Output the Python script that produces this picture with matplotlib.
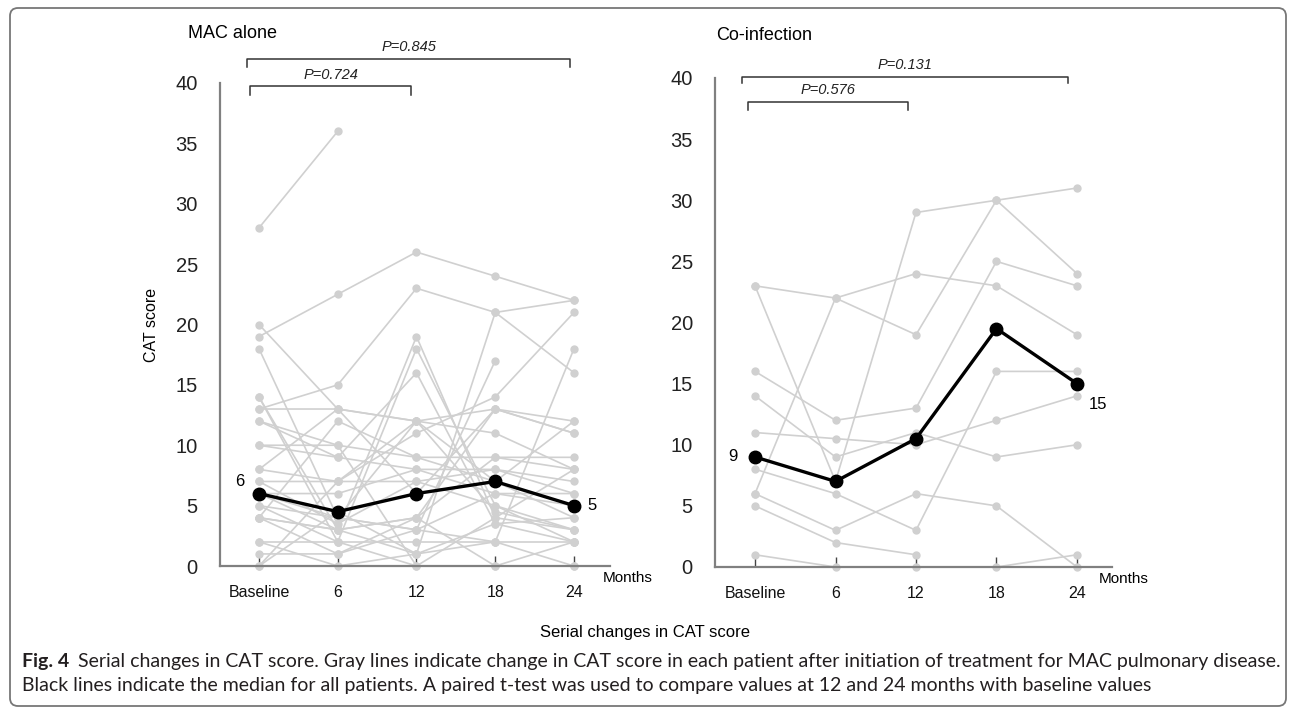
import numpy as np
import matplotlib
matplotlib.use("Agg")
import matplotlib.pyplot as plt
from matplotlib.patches import FancyBboxPatch
from matplotlib.transforms import IdentityTransform

nan = np.nan

months = ["Baseline", "6", "12", "18", "24"]

# CAT score per patient, MAC alone (Baseline, 6, 12, 18, 24 months)
mac_alone = [
    [28, 36, nan, nan, nan],
    [19, 22.5, 26, 24, 22],
    [20, 13, 6, 13, 11],
    [18, 4, 12, 7, 4],
    [13, 15, 23, 21, 22],
    [4, 3, 1, 21, 16],
    [14, 3, 19, 4, 3],
    [14, 2, 18, 5, 2],
    [12, 9, 16, 3.5, 4],
    [10, 10, 9, 9, 9],
    [8, 7, 12, 11, 8],
    [7, 7, 7, 8, 7],
    [6, 6, 8, 8, 6],
    [5, 4, 3, 17, nan],
    [4, 12, 9, 7, 12],
    [4, 3, 4, 13, 11],
    [2, 2, 2, 2, 2],
    [1, 1, 3, 6, 5],
    [0, 4.5, 1, 2, 18],
    [0, 7, 11, 14, 21],
    [8, 13, 12, 4.5, 3],
    [6, 3, 4, 0, 0],
    [5, 2, 0, 4, 8],
    [4, 1, 4, 9, 8],
    [13, 13, 12, 13, 12],
    [10, 9, 8, 6, 6],
    [7, 3.5, 7, 5, 3],
    [2, 0, 1, 3.5, 2],
    [12, 10, 0, 0, 2],
    [6, 4, 3, 2, 0],
]
mac_median = [6, 4.5, 6, 7, 5]

# CAT score per patient, co-infection
coinf = [
    [23, 22, 24, 23, 19],
    [6, 22, 19, 30, 24],
    [23, 7, 29, 30, 31],
    [16, 12, 13, 25, 23],
    [8, 6, 3, 16, 16],
    [14, 9, 11, 9, 10],
    [11, 10.5, 10, 12, 14],
    [6, 3, 6, 5, 0],
    [5, 2, 1, nan, nan],
    [1, 0, 0, 0, 1],
]
coinf_median = [9, 7, 10.5, 19.5, 15]

mac_p = ["P=0.724", "P=0.845"]
coinf_p = ["P=0.576", "P=0.131"]

plt.rcParams['font.family'] = ['Liberation Sans', 'DejaVu Sans']

W, H = 1292, 708
fig = plt.figure(figsize=(W / 100, H / 100), dpi=100)


def px_axes(x0, x1, ytop, ybot):
    return fig.add_axes([x0 / W, 1 - ybot / H, (x1 - x0) / W, (ybot - ytop) / H])


def panel(ax, patients, median, xlim):
    x = np.arange(len(months))
    for p in patients:
        ax.plot(x, p, color='#d0d0d0', lw=1.2, marker='o', ms=5,
                clip_on=False, zorder=2)
    ax.plot(x, median, color='black', lw=2.4, marker='o', ms=9,
            clip_on=False, zorder=3)
    ax.set_xlim(*xlim)
    ax.set_ylim(0, 40)
    ax.set_yticks(range(0, 41, 5))
    ax.set_xticks(x)
    ax.set_xticklabels(months, fontsize=11.5)
    ax.tick_params(axis='y', length=0, pad=16, labelsize=14.5, labelcolor='#222222')
    ax.tick_params(axis='x', direction='in', length=7, width=1, color='#444444',
                   pad=14, labelcolor='#111111')
    for s in ['top', 'right']:
        ax.spines[s].set_visible(False)
    for s in ['left', 'bottom']:
        ax.spines[s].set_color('#808080')
        ax.spines[s].set_linewidth(1.6)


def bracket(ax, x0, x1, y, tip, label, ty):
    ax.plot([x0, x0, x1, x1], [y - tip, y, y, y - tip], color='#333333', lw=1.1,
            clip_on=False)
    ax.text((x0 + x1) / 2, ty, label, ha='center', va='center', fontsize=10.5,
            style='italic', color='#222222', clip_on=False)


# left panel
ax1 = px_axes(220, 610, 83, 566)
panel(ax1, mac_alone, mac_median, (-0.495, 4.457))
bracket(ax1, -0.15, 3.95, 42.0, 0.7, mac_p[1], 42.95)
bracket(ax1, -0.11, 1.93, 39.75, 0.75, mac_p[0], 40.7)
ax1.annotate(str(mac_median[0]), (0, mac_median[0]), xytext=(-14, 9),
             textcoords='offset points', ha='center', va='center', fontsize=12)
ax1.annotate(str(mac_median[-1]), (4, mac_median[-1]), xytext=(13, 0),
             textcoords='offset points', ha='center', va='center', fontsize=12)
ax1.set_ylabel("CAT score", fontsize=11.5, labelpad=12)

# right panel
ax2 = px_axes(715, 1112, 78, 567)
panel(ax2, coinf, coinf_median, (-0.497, 4.435))
bracket(ax2, -0.16, 3.89, 40.1, 0.5, coinf_p[1], 41.1)
bracket(ax2, -0.09, 1.9, 38.0, 0.6, coinf_p[0], 39.0)
ax2.annotate(str(coinf_median[0]), (0, coinf_median[0]), xytext=(-16, 0),
             textcoords='offset points', ha='center', va='center', fontsize=12)
ax2.annotate(str(coinf_median[-1]), (4, coinf_median[-1]), xytext=(15, -15),
             textcoords='offset points', ha='center', va='center', fontsize=12)

# titles and axis notes
fig.text(188 / W, 1 - 33 / H, "MAC alone", fontsize=13, va='center', ha='left')
fig.text(716 / W, 1 - 35 / H, "Co-infection", fontsize=13, va='center', ha='left')
fig.text(628 / W, 1 - 578 / H, "Months", fontsize=11, va='center', ha='center')
fig.text(1124 / W, 1 - 579 / H, "Months", fontsize=11, va='center', ha='center')
fig.text(645 / W, 1 - 632 / H, "Serial changes in CAT score", fontsize=12,
         va='center', ha='center')

# caption
cap_font = ['Lato', 'DejaVu Sans']
cap_size = 14
t_fig = fig.text(22 / W, 1 - 661 / H, "Fig. 4", fontsize=cap_size, fontweight='bold',
                 family=cap_font, va='center', ha='left', color='#231f20')
fig.canvas.draw()
bb = t_fig.get_window_extent()
fig.text((bb.x1 + 9) / W, 1 - 661 / H,
         "Serial changes in CAT score. Gray lines indicate change in CAT score in each "
         "patient after initiation of treatment for MAC pulmonary disease.",
         fontsize=cap_size, family=cap_font, va='center', ha='left', color='#231f20')
fig.text(22 / W, 1 - 686 / H,
         "Black lines indicate the median for all patients. A paired t-test was used to "
         "compare values at 12 and 24 months with baseline values",
         fontsize=cap_size, family=cap_font, va='center', ha='left', color='#231f20')

# outer frame
frame = FancyBboxPatch((10, 2), 1276, 698, boxstyle="round,pad=0,rounding_size=8",
                       transform=IdentityTransform(), fill=False,
                       edgecolor='#777777', lw=1.3)
fig.add_artist(frame)

fig.savefig("out.png", dpi=100)
